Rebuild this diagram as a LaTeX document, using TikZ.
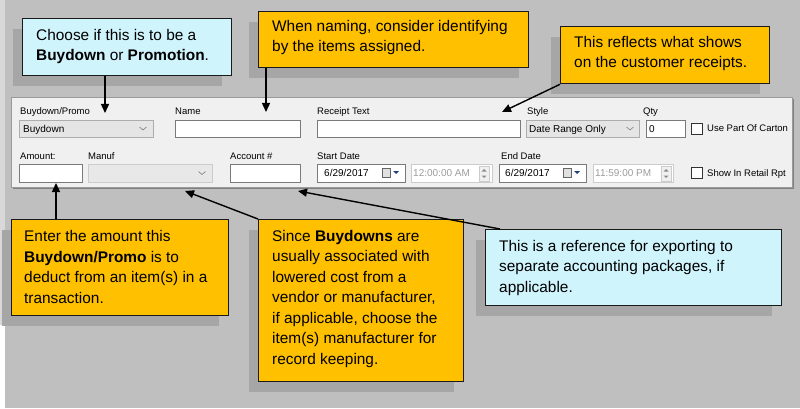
\documentclass[tikz,border=0pt]{standalone}
\usepackage{fontspec}
\setmainfont{Liberation Sans}
\usetikzlibrary{arrows.meta,shadows}
\definecolor{bggray}{HTML}{BFBFBF}
\definecolor{stripgray}{HTML}{D8D8D8}
\definecolor{shadowgray}{HTML}{A6A6A6}
\definecolor{calloutorange}{HTML}{FFC000}
\definecolor{calloutblue}{HTML}{D0F4FC}
\definecolor{boxline}{HTML}{1A1A1A}
\definecolor{panelfill}{HTML}{F0F0F0}
\definecolor{panelline}{HTML}{9A9A9A}
\definecolor{fieldline}{HTML}{7A7A7A}
\definecolor{comboline}{HTML}{ADADAD}
\definecolor{combofill}{HTML}{E5E5E5}
\definecolor{disline}{HTML}{CCCCCC}
\definecolor{disfill}{HTML}{E8E8E8}
\definecolor{distext}{HTML}{9C9C9C}
\definecolor{caltri}{HTML}{1F3F7F}
\begin{document}
\begin{tikzpicture}[x=1pt,y=-1pt,
  callout/.style={draw=boxline, line width=1.3pt, inner sep=0pt, anchor=north west,
    drop shadow={shadow xshift=-10pt, shadow yshift=-10pt, fill=shadowgray, opacity=1}},
  ctext/.style={font=\fontsize{15.4}{20.5}\selectfont, align=left, inner sep=0pt, anchor=west},
  arr/.style={draw=black, line width=1.4pt, -{Triangle[length=9pt,width=8pt]}},
  panel/.style={fill=panelfill, draw=panelline, line width=0.8pt, anchor=north west,
    drop shadow={shadow xshift=2pt, shadow yshift=-2pt, fill=black!50, opacity=1}},
  fbox/.style={draw=fieldline, fill=white, line width=0.8pt, anchor=north west, inner sep=0pt},
  cbox/.style={draw=comboline, fill=combofill, line width=0.8pt, anchor=north west, inner sep=0pt},
  dbox/.style={draw=disline, fill=disfill, line width=0.8pt, anchor=north west, inner sep=0pt},
  tbdis/.style={draw=disline, fill=white, line width=0.8pt, anchor=north west, inner sep=0pt},
  chk/.style={draw=black!80, fill=white, line width=0.8pt, anchor=north west, inner sep=0pt,
    minimum width=11pt, minimum height=11pt},
  flabel/.style={font=\fontsize{9.5}{11}\selectfont, inner sep=0pt, anchor=west, text height=6.8pt, text depth=0pt},
  fvalue/.style={font=\fontsize{10}{12}\selectfont, inner sep=0pt, anchor=west, text height=7.2pt, text depth=0pt},
  chev/.style={draw=black!50, line width=0.6pt},
  spin/.style={draw=disline, fill=panelfill, line width=0.6pt, anchor=north west, inner sep=0pt,
    minimum width=10pt, minimum height=15pt},
]
\useasboundingbox (0,0) rectangle (800,409);
% background
\fill[white] (0,0) rectangle (800,409);
\fill[bggray] (5,0) rectangle (800,408);
\fill[stripgray] (0,0) rectangle (5,325);

% top callouts
\node[callout, fill=calloutblue, minimum width=209pt, minimum height=57pt] (b1) at (22,18) {};
\node[ctext] (t1) at (36,46.5) {Choose if this is to be a\\\textbf{Buydown} or \textbf{Promotion}.};
\node[callout, fill=calloutorange, minimum width=270pt, minimum height=56pt] (b2) at (258,11) {};
\node[ctext] (t2) at (272,37.5) {When naming, consider identifying\\by the items assigned.};
\node[callout, fill=calloutorange, minimum width=209pt, minimum height=57pt] (b3) at (560,26) {};
\node[ctext] (t3) at (574,53.5) {This reflects what shows\\on the customer receipts.};

% form panel
\node[panel, minimum width=781pt, minimum height=90pt] (panel) at (11,97) {};

% row 1 labels
\node[flabel] (l1) at (20,111) {Buydown/Promo};
\node[flabel] (l2) at (175,111) {Name};
\node[flabel] (l3) at (317,111) {Receipt Text};
\node[flabel] (l4) at (527,111) {Style};
\node[flabel] (l5) at (643,111) {Qty};
% row 1 fields
\node[cbox, minimum width=134pt, minimum height=17pt] (f1) at (19,120) {};
\node[fvalue] (v1) at (23,128.5) {Buydown};
\draw[chev] (139.5,127) -- (143,130) -- (146.5,127);
\node[fbox, minimum width=125pt, minimum height=17pt] (f2) at (175,120) {};
\node[fbox, minimum width=203pt, minimum height=17pt] (f3) at (317,120) {};
\node[cbox, minimum width=113pt, minimum height=17pt] (f4) at (526,120) {};
\node[fvalue] (v4) at (529,128.5) {Date Range Only};
\draw[chev] (626.5,127) -- (630,130) -- (633.5,127);
\node[fbox, minimum width=39pt, minimum height=17pt] (f5) at (646,120) {};
\node[fvalue] (v5) at (649,128.5) {0};
\node[chk] (c1) at (691,123) {};
\node[flabel] (cl1) at (707,128.5) {Use Part Of Carton};

% row 2 labels
\node[flabel] (l6) at (20,156) {Amount:};
\node[flabel] (l7) at (88,156) {Manuf};
\node[flabel] (l8) at (230,156) {Account \#};
\node[flabel] (l9) at (317,156) {Start Date};
\node[flabel] (l10) at (501,156) {End Date};
% row 2 fields
\node[fbox, minimum width=63pt, minimum height=18pt] (f6) at (19,164) {};
\node[dbox, minimum width=124pt, minimum height=18pt] (f7) at (88,164) {};
\draw[chev] (198.5,171.5) -- (202,174.5) -- (205.5,171.5);
\node[fbox, minimum width=70pt, minimum height=18pt] (f8) at (230,164) {};
% start date
\node[fbox, minimum width=88pt, minimum height=18pt] (f9) at (317,164) {};
\node[fvalue] (v9) at (324,173) {6/29/2017};
\draw[draw=black!60, fill=black!12, line width=0.6pt] (382,168) rectangle (390,177);
\fill[caltri] (393,171) -- (399,171) -- (396,174) -- cycle;
\node[tbdis, minimum width=81pt, minimum height=18pt] (f10) at (411,164) {};
\node[fvalue, text=distext] (v10) at (413,173) {12:00:00 AM};
\node[spin] (sp1) at (479,166) {};
\fill[black!45] (481.5,171.5) -- (486.5,171.5) -- (484,169) -- cycle;
\fill[black!45] (481.5,175.5) -- (486.5,175.5) -- (484,178) -- cycle;
% end date
\node[fbox, minimum width=87pt, minimum height=18pt] (f11) at (499,164) {};
\node[fvalue] (v11) at (505,173) {6/29/2017};
\draw[draw=black!60, fill=black!12, line width=0.6pt] (563,168) rectangle (571,177);
\fill[caltri] (574,171) -- (580,171) -- (577,174) -- cycle;
\node[tbdis, minimum width=80pt, minimum height=18pt] (f12) at (593,164) {};
\node[fvalue, text=distext] (v12) at (595,173) {11:59:00 PM};
\node[spin] (sp2) at (661,166) {};
\fill[black!45] (663.5,171.5) -- (668.5,171.5) -- (666,169) -- cycle;
\fill[black!45] (663.5,175.5) -- (668.5,175.5) -- (666,178) -- cycle;
\node[chk] (c2) at (691,167) {};
\node[flabel] (cl2) at (707,173) {Show In Retail Rpt};

% bottom callouts
\node[callout, fill=calloutorange, minimum width=217pt, minimum height=96pt] (b4) at (11,219) {};
\node[ctext] (t4) at (24,267) {Enter the amount this\\\textbf{Buydown/Promo} is to\\deduct from an item(s) in a\\transaction.};
\node[callout, fill=calloutorange, minimum width=205pt, minimum height=162pt] (b5) at (258,219) {};
\node[ctext] (t5) at (272,299) {Since \textbf{Buydowns} are\\usually associated with\\lowered cost from a\\vendor or manufacturer,\\if applicable, choose the\\item(s) manufacturer for\\record keeping.};
\node[callout, fill=calloutblue, minimum width=296pt, minimum height=76pt] (b6) at (485,229) {};
\node[ctext] (t6) at (499,268) {This is a reference for exporting to\\separate accounting packages, if\\applicable.};

% connectors
\coordinate (p1) at (105,113);
\coordinate (p2) at (266,112);
\coordinate (p3) at (502,112);
\coordinate (p4) at (56,183);
\coordinate (p5) at (185,191);
\coordinate (p6) at (298,191);
\draw[arr] (b1.south -| p1) -- (p1);
\draw[arr] (b2.south -| p2) -- (p2);
\draw[arr] (b3.south west) -- (p3);
\draw[arr] (b4.north -| p4) -- (p4);
\draw[arr] (b5.north west) -- (p5);
\draw[arr] ([xshift=15pt]b6.north west) -- (p6);
\end{tikzpicture}
\end{document}
